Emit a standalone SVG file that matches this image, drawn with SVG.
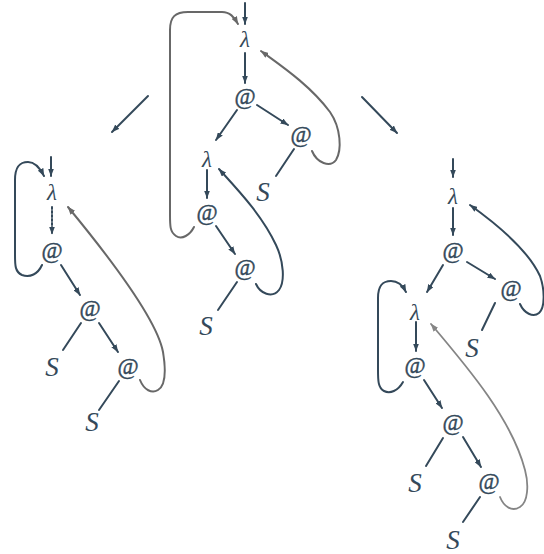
<svg xmlns="http://www.w3.org/2000/svg" width="544" height="554" viewBox="0 0 544 554">
  <defs>
    <marker id="ah" viewBox="0 0 8 6" markerWidth="8" markerHeight="6" refX="7.5" refY="3" orient="auto" markerUnits="userSpaceOnUse">
      <path d="M0,0 L8,3 L0,6 Z" fill="#34495a"/>
    </marker>
    <marker id="ahg" viewBox="0 0 8 6" markerWidth="8" markerHeight="6" refX="7.5" refY="3" orient="auto" markerUnits="userSpaceOnUse">
      <path d="M0,0 L8,3 L0,6 Z" fill="#686868"/>
    </marker>
    <marker id="ahl" viewBox="0 0 8 6" markerWidth="8" markerHeight="6" refX="7.5" refY="3" orient="auto" markerUnits="userSpaceOnUse">
      <path d="M0,0 L8,3 L0,6 Z" fill="#858585"/>
    </marker>
    <style>
      .e { fill: none; stroke: #34495a; stroke-width: 2; stroke-linecap: round; }
      .a { marker-end: url(#ah); }
      .g { fill: none; stroke: #686868; stroke-width: 2; stroke-linecap: round; marker-end: url(#ahg); }
      .gl { fill: none; stroke: #858585; stroke-width: 1.8; stroke-linecap: round; marker-end: url(#ahl); }
      .d { stroke-dasharray: 2 2; }
      .lam { font-family: "Liberation Serif", "DejaVu Serif", serif; font-style: italic; font-size: 23px; fill: #34495a; text-anchor: middle; }
      .app { font-family: "Liberation Serif", "DejaVu Serif", serif; font-size: 23px; fill: #34495a; text-anchor: middle; stroke: #34495a; stroke-width: 0.4; }
      .s { font-family: "Liberation Serif", "DejaVu Serif", serif; font-style: italic; font-size: 27px; fill: #34495a; text-anchor: middle; }
    </style>
  </defs>

  <!-- connectors -->
  <g id="connectors">
    <!-- reduction steps -->
    <line class="e a" x1="148" y1="96" x2="112" y2="132"/>
    <line class="e a" x1="362" y1="97" x2="397" y2="133"/>

    <!-- middle graph -->
    <line class="e a" x1="245" y1="3" x2="245" y2="24"/>
    <line class="e a" x1="245" y1="53" x2="245" y2="83"/>
    <line class="e a" x1="237" y1="110" x2="216" y2="140"/>
    <line class="e a" x1="257" y1="105" x2="288" y2="125"/>
    <line class="e" x1="294" y1="149" x2="276" y2="176"/>
    <line class="e a" x1="207" y1="170" x2="207" y2="198"/>
    <line class="e a" x1="216" y1="226" x2="235" y2="254"/>
    <line class="e" x1="237" y1="282" x2="218" y2="310"/>
    <path class="g" d="M312,151 C317,163 330,168 336,160 C342,150 341,128 330,112 C310,85 280,65 261,51"/>
    <path class="g" d="M194,227 C190,235 182,240 176,236 C170,232 170,226 170,215 L170,30 C170,17 175,12 188,12 L222,12 C230,12 234,17 238,24"/>
    <path class="e a" d="M256,284 C260,293 272,299 279,290 C285,282 284,262 276,245 C262,215 238,190 219,169"/>

    <!-- left graph -->
    <line class="e a" x1="51" y1="157" x2="51" y2="176"/>
    <line class="e a d" x1="52" y1="207" x2="52" y2="234"/>
    <line class="e a" x1="61" y1="265" x2="80" y2="295"/>
    <line class="e" x1="81" y1="323" x2="63" y2="350"/>
    <line class="e a" x1="99" y1="323" x2="118" y2="352"/>
    <line class="e" x1="119" y1="381" x2="99" y2="410"/>
    <path class="e a" d="M42,265 C38,274 30,278 22,275 C15,272 15,265 15,255 L15,180 C15,166 20,162 28,162 C35,162 40,168 44,176"/>
    <path class="g" d="M140,380 C144,390 152,394 158,390 C166,385 166,370 163,352 C158,325 120,270 68,207"/>

    <!-- right graph -->
    <line class="e a" x1="453" y1="159" x2="453" y2="177"/>
    <line class="e a" x1="453" y1="208" x2="453" y2="235"/>
    <line class="e a" x1="443" y1="265" x2="427" y2="292"/>
    <line class="e a" x1="467" y1="262" x2="495" y2="279"/>
    <line class="e" x1="495" y1="303" x2="482" y2="330"/>
    <path class="e a" d="M520,304 C524,313 533,318 539,313 C545,308 545,290 540,276 C528,250 498,225 470,205"/>
    <line class="e a" x1="416" y1="322" x2="416" y2="351"/>
    <path class="e a" d="M403,382 C398,391 390,394 384,391 C378,388 378,380 378,370 L378,298 C378,285 383,281 391,281 C398,281 403,286 406,292"/>
    <line class="e a" x1="424" y1="380" x2="442" y2="408"/>
    <line class="e" x1="443" y1="438" x2="426" y2="466"/>
    <line class="e a" x1="463" y1="437" x2="481" y2="467"/>
    <line class="e" x1="480" y1="497" x2="463" y2="522"/>
    <path class="gl" d="M500,497 C504,507 512,512 520,507 C528,502 529,485 525,470 C512,420 470,370 431,324"/>
  </g>

  <!-- middle graph nodes -->
  <g id="m-lam1"><text class="lam" x="245" y="47">λ</text></g>
  <g id="m-app1"><text class="app" x="245" y="104">@</text></g>
  <g id="m-lam2"><text class="lam" x="207" y="167">λ</text></g>
  <g id="m-app2"><text class="app" x="301" y="142">@</text></g>
  <g id="m-s1"><text class="s" x="263" y="201">S</text></g>
  <g id="m-app3"><text class="app" x="207" y="220">@</text></g>
  <g id="m-app4"><text class="app" x="245" y="275">@</text></g>
  <g id="m-s2"><text class="s" x="206" y="335">S</text></g>

  <!-- left graph nodes -->
  <g id="l-lam1"><text class="lam" x="52" y="200">λ</text></g>
  <g id="l-app1"><text class="app" x="52" y="258">@</text></g>
  <g id="l-app2"><text class="app" x="90" y="316">@</text></g>
  <g id="l-s1"><text class="s" x="52" y="376">S</text></g>
  <g id="l-app3"><text class="app" x="128" y="374">@</text></g>
  <g id="l-s2"><text class="s" x="92" y="431">S</text></g>

  <!-- right graph nodes -->
  <g id="r-lam1"><text class="lam" x="453" y="204">λ</text></g>
  <g id="r-app1"><text class="app" x="453" y="258">@</text></g>
  <g id="r-app2"><text class="app" x="511" y="296">@</text></g>
  <g id="r-s1"><text class="s" x="472" y="357">S</text></g>
  <g id="r-lam2"><text class="lam" x="415" y="320">λ</text></g>
  <g id="r-app3"><text class="app" x="415" y="373">@</text></g>
  <g id="r-app4"><text class="app" x="453" y="430">@</text></g>
  <g id="r-s2"><text class="s" x="415" y="492">S</text></g>
  <g id="r-app5"><text class="app" x="489" y="489">@</text></g>
  <g id="r-s3"><text class="s" x="453" y="549">S</text></g>
</svg>
